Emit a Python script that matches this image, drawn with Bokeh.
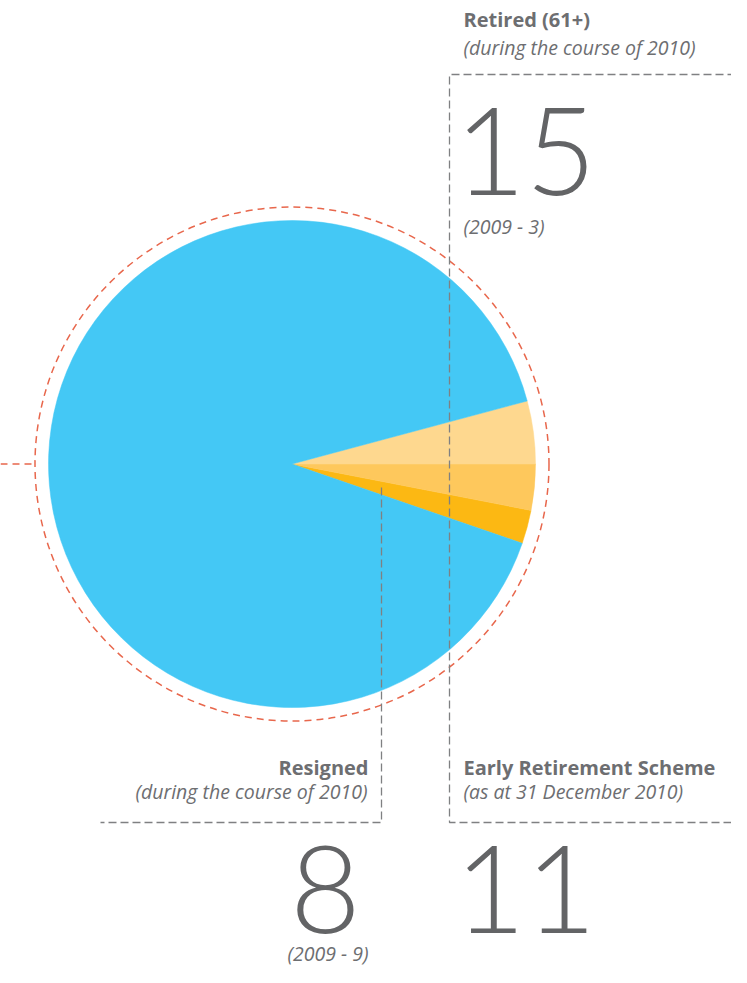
import math
from bokeh.plotting import figure
from bokeh.models import Range1d, ColumnDataSource
from bokeh.core.properties import value
from bokeh.embed import file_html
from bokeh.resources import INLINE

# ---- data ----
categories = ["Resigned", "Early Retirement Scheme", "Retired (61+)", "Other staff"]
counts = [8, 11, 15, 326]
prev_2009 = {"Retired (61+)": 3, "Resigned": 9}
colors = ["#FCB813", "#FEC85C", "#FED88F", "#44C8F5"]

W, H = 731, 967


def Y(py):
    return H - py


p = figure(width=W, height=H, output_backend="svg", toolbar_location=None,
           x_range=Range1d(0, W), y_range=Range1d(0, H), min_border=0)
p.axis.visible = False
p.grid.visible = False
p.outline_line_color = None
p.background_fill_color = "white"

cx, cy, r = 291.5, Y(463.5), 243.5
total = sum(counts)
start0 = -(counts[0] + counts[1]) / total * 2 * math.pi
starts, ends = [], []
acc = start0
for c in counts:
    starts.append(acc)
    acc += c / total * 2 * math.pi
    ends.append(acc)
src = ColumnDataSource(dict(start=starts, end=ends, color=colors, cat=categories))
p.wedge(x=cx, y=cy, radius=r, start_angle="start", end_angle="end",
        fill_color="color", line_color="color", line_width=0.5, source=src)

# red dashed ring
red = "#E8674C"
p.circle(x=[cx], y=[cy], radius=257, fill_color=None, line_color=red,
         line_width=1.5, line_dash="7 5")
p.line(x=[0, 35], y=[cy, cy], line_color=red, line_width=1.5, line_dash="7 5")

# gray dashed guide lines
gray = "#7F8082"
dash = "8 4"
p.line(x=[747, 449, 449, 747], y=[Y(74), Y(74), Y(822), Y(822)],
       line_color=gray, line_width=1.3, line_dash=dash)
p.line(x=[381, 381, 100], y=[Y(487), Y(822), Y(822)],
       line_color=gray, line_width=1.3, line_dash=dash)

lab = "#6D6E71"
big = "#636466"
font = value("Open Sans")
bigfont = value("Lato Light")
BOLD = "20px"
ITAL = "19.5px"


def txt(x, py, s, size, style="normal", align="left", color=lab, f=font):
    p.text(x=[x], y=[Y(py)], text=[s], text_font=f, text_font_size=size,
           text_font_style=style, text_align=align, text_baseline="middle",
           text_color=color)


# Retired
txt(463, 18.5, categories[2], BOLD, "bold")
txt(463, 47, "(during the course of 2010)", ITAL, "italic")
txt(525, 151, str(counts[2]), "122px", align="center", color=big, f=bigfont)
txt(463, 226, "(2009 - %d)" % prev_2009["Retired (61+)"], ITAL, "italic")

# Resigned
txt(368, 767, categories[0], BOLD, "bold", align="right")
txt(367, 791, "(during the course of 2010)", ITAL, "italic", align="right")
txt(325, 889, str(counts[0]), "122px", align="center", color=big, f=bigfont)
txt(368, 953, "(2009 - %d)" % prev_2009["Resigned"], ITAL, "italic", align="right")

# Early retirement
txt(463, 767, categories[1], BOLD, "bold")
txt(463, 791, "(as at 31 December 2010)", ITAL, "italic")
txt(525, 889, str(counts[1]), "122px", align="center", color=big, f=bigfont)

open("out.html", "w").write(file_html(p, INLINE))
